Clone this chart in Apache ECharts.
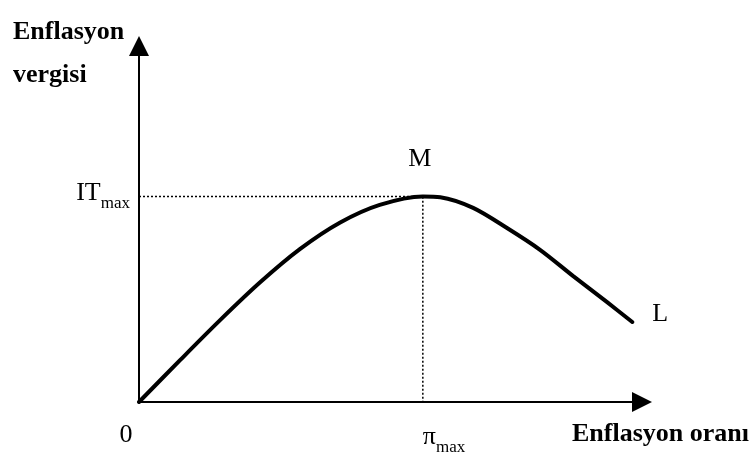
<!DOCTYPE html>
<html>
<head>
<meta charset="utf-8">
<script src="https://cdn.jsdelivr.net/npm/echarts@6/dist/echarts.min.js"></script>
<style>html,body{margin:0;padding:0;background:#fff}#c{width:749px;height:455px}</style>
</head>
<body>
<div id="c"></div>
<script>
// Inflation rate (x) and inflation tax (y), in arbitrary units
var rate = [0, 8, 15.8, 23.6, 31.4, 39.2, 46.9, 55.3, 58.7, 65.1, 71.7, 78.2, 84.6, 91.2, 96.1];
var tax  = [0, 11.4, 22.3, 32.6, 41.7, 48.9, 53.7, 56.0, 55.8, 52.9, 47.4, 41.4, 34.3, 27.2, 21.8];
var piMax = 55.3;
var itMax = 56.0;
var yTitle = ['Enflasyon', 'vergisi'];
var xTitle = 'Enflasyon oranı';
var pointLabels = ['M', 'L'];

var SERIF = '"Liberation Serif","DejaVu Serif",serif';
var curve = rate.map(function (x, i) { return [x, tax[i]]; });
var n = curve.length - 1;

var chart = echarts.init(document.getElementById('c'), null, {renderer: 'canvas'});
chart.setOption({
  animation: false,
  backgroundColor: '#fff',
  title: [{
    text: yTitle.join('\n'),
    left: 8, top: 6,
    textStyle: {fontFamily: SERIF, fontWeight: 'bold', fontSize: 26, lineHeight: 43, color: '#000'}
  }],
  graphic: [{
    type: 'text', right: 0, top: 421,
    style: {text: xTitle, fontFamily: SERIF, fontWeight: 'bold', fontSize: 26, fill: '#000'}
  }],
  grid: {left: 139, top: 46, width: 503, height: 356, containLabel: false},
  xAxis: {
    type: 'value', min: 0, max: 98,
    axisLine: {lineStyle: {color: '#000', width: 2}, symbol: ['none', 'triangle'], symbolSize: [20, 20], symbolOffset: [0, 0]},
    axisTick: {show: false}, axisLabel: {show: false}, splitLine: {show: false}
  },
  yAxis: {
    type: 'value', min: 0, max: 97,
    axisLine: {lineStyle: {color: '#000', width: 2}, symbol: ['none', 'triangle'], symbolSize: [20, 20], symbolOffset: [0, 0]},
    axisTick: {show: false}, axisLabel: {show: false}, splitLine: {show: false}
  },
  series: [
    {
      type: 'line', data: [[0, itMax], [piMax, itMax], [piMax, 0]],
      showSymbol: false, silent: true,
      lineStyle: {color: '#000', width: 1.5, type: [2, 2]}
    },
    {
      type: 'line', data: curve, smooth: 0.3, showSymbol: false, silent: true,
      lineStyle: {color: '#000', width: 4, cap: 'round'}
    },
    {
      type: 'scatter', symbolSize: 0, silent: true,
      itemStyle: {opacity: 1},
      data: [
        {value: [0, 0], label: {formatter: '0', align: 'center', offset: [-13, 33]}},
        {value: [piMax, 0], label: {formatter: '{a|π}{b|max}', align: 'left', offset: [0, 35]}},
        {value: [0, itMax], label: {formatter: '{a|IT}{b|max}', align: 'right', offset: [-9, -3]}},
        {value: [piMax, itMax], label: {formatter: pointLabels[0], align: 'center', offset: [-3, -37]}},
        {value: curve[n], label: {formatter: pointLabels[1], align: 'left', offset: [20, -8]}}
      ],
      label: {
        show: true, position: 'inside', verticalAlign: 'middle',
        fontFamily: SERIF, fontSize: 26, color: '#000',
        rich: {
          a: {fontFamily: SERIF, fontSize: 26, color: '#000', verticalAlign: 'bottom'},
          b: {fontFamily: SERIF, fontSize: 17, color: '#000', verticalAlign: 'bottom', padding: [0, 0, -6, 0]}
        }
      }
    }
  ]
});
</script>
</body>
</html>
